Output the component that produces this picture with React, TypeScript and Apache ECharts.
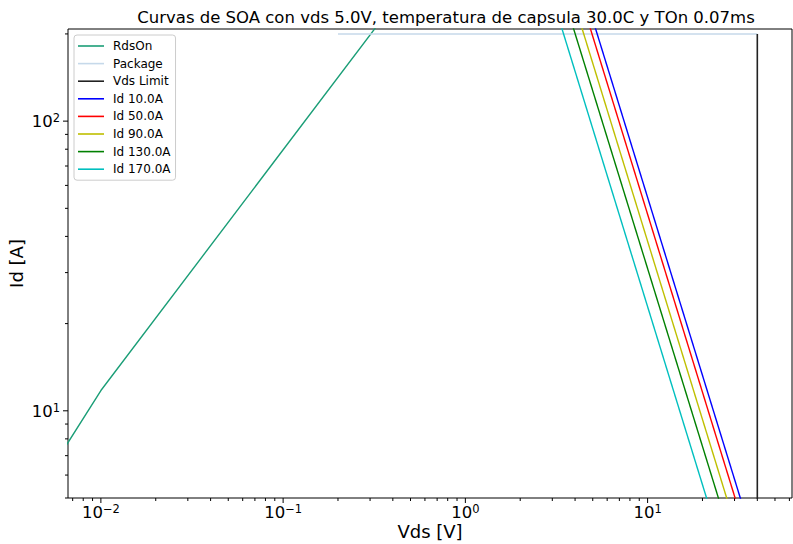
import React, { useEffect, useRef } from 'react';
import * as echarts from 'echarts';

const titleText = 'Curvas de SOA con vds 5.0V, temperatura de capsula 30.0C y TOn 0.07ms';
const xAxisName = 'Vds [V]';
const yAxisName = 'Id [A]';

const X_MIN = 0.0066;
const X_MAX = 62;
const Y_MIN = 5;
const Y_MAX = 208;

const rdsOnV = [0.006, 0.01, 0.349];
const rdsOnI = [7.07, 11.75, 225];
const packageV = [0.2, 40];
const packageI = [200, 200];
const vdsLimitV = [40, 40];
const vdsLimitI = [200, 4];

const idNames = ['Id 10.0A', 'Id 50.0A', 'Id 90.0A', 'Id 130.0A', 'Id 170.0A'];
const idColors = ['#0000ff', '#ff0000', '#bfbf00', '#008000', '#00bfbf'];
const idTopV = [4.74, 4.44, 4.0, 3.59, 3.1];
const idBottomV = [36.0, 33.7, 30.3, 27.3, 23.5];
const idI = [250, 4];

const xMajorTicks = [0.01, 0.1, 1, 10];
const yMajorTicks = [10, 100];
const minorMantissas = [2, 3, 4, 5, 6, 7, 8, 9];
const xDecades = [0.001, 0.01, 0.1, 1, 10];
const yDecades = [1, 10, 100];

const FONT = 'DejaVu Sans';

function zip(xs: number[], ys: number[]) {
  return xs.map((x, i) => [x, ys[i]]);
}

function minorTicks(decades: number[], lo: number, hi: number) {
  const out: number[] = [];
  decades.forEach((d) => minorMantissas.forEach((m) => {
    const v = d * m;
    if (v >= lo && v <= hi) out.push(v);
  }));
  return out;
}

function supLabel(v: number) {
  const lg = Math.log10(v);
  const e = Math.round(lg);
  if (Math.abs(lg - e) > 1e-6) return '';
  const es = e < 0 ? '\u2212' + String(-e) : String(e);
  return '{b|10}{s|' + es + '}';
}

export default function App() {
  const ref = useRef<HTMLDivElement>(null);
  useEffect(() => {
    if (!ref.current) return;
    const chart = echarts.init(ref.current, undefined, { renderer: 'svg' });

    const xTickData = [
      ...xMajorTicks.map((v) => [v, Y_MIN, 5]),
      ...minorTicks(xDecades, X_MIN, X_MAX).map((v) => [v, Y_MIN, 3]),
    ];
    const yTickData = [
      ...yMajorTicks.map((v) => [X_MIN, v, 5]),
      ...minorTicks(yDecades, Y_MIN, Y_MAX).map((v) => [X_MIN, v, 3]),
    ];

    const lineBase = (name: string, color: string, data: number[][], width = 1.4) => ({
      name,
      type: 'line',
      data,
      symbol: 'none',
      showSymbol: false,
      clip: true,
      lineStyle: { color, width },
      itemStyle: { color },
      emphasis: { disabled: true },
      silent: true,
    });

    const richLabel = {
      b: { fontSize: 16.5, fontFamily: FONT, color: '#000', lineHeight: 18, verticalAlign: 'bottom' },
      s: { fontSize: 11.5, fontFamily: FONT, color: '#000', lineHeight: 12, verticalAlign: 'top' },
    };

    const legendNames = ['RdsOn', 'Package', 'Vds Limit', ...idNames];

    const option: any = {
      animation: false,
      backgroundColor: '#fff',
      grid: {
        left: 68, right: 1, top: 29, bottom: 46,
        outerBoundsMode: 'none',
        containLabel: false,
        show: true, borderColor: '#000', borderWidth: 1, backgroundColor: 'transparent',
      },
      graphic: [
        {
          type: 'text',
          x: 446,
          y: 17,
          style: {
            text: titleText,
            fontFamily: FONT,
            fontSize: 16.5,
            fill: '#000',
            align: 'center',
            verticalAlign: 'middle',
          },
        },
      ],
      legend: {
        left: 74,
        top: 35,
        orient: 'vertical',
        data: legendNames,
        icon: 'path://M0 0H26V1.6H0Z',
        itemWidth: 26,
        itemHeight: 14,
        itemGap: 3.6,
        padding: [4, 5, 4, 4],
        backgroundColor: '#fff',
        borderColor: '#cccccc',
        borderWidth: 1,
        borderRadius: 3,
        selectedMode: false,
        textStyle: { fontFamily: FONT, fontSize: 12, lineHeight: 14, color: '#000', padding: [0, 0, 0, 4] },
      },
      xAxis: {
        type: 'log',
        logBase: 10,
        min: X_MIN,
        max: X_MAX,
        name: xAxisName,
        nameLocation: 'middle',
        nameGap: 24,
        nameMoveOverlap: false,
        nameTextStyle: { fontFamily: FONT, fontSize: 18, color: '#000' },
        axisLine: { show: false },
        axisTick: { show: false },
        splitLine: { show: false },
        minorTick: { show: false },
        axisLabel: {
          margin: 5,
          formatter: (v: number) => supLabel(v),
          rich: richLabel,
          showMinLabel: false,
          showMaxLabel: false,
        },
      },
      yAxis: {
        type: 'log',
        logBase: 10,
        min: Y_MIN,
        max: Y_MAX,
        name: yAxisName,
        nameLocation: 'middle',
        nameGap: 43,
        nameMoveOverlap: false,
        nameRotate: 90,
        nameTextStyle: { fontFamily: FONT, fontSize: 18, color: '#000' },
        axisLine: { show: false },
        axisTick: { show: false },
        splitLine: { show: false },
        minorTick: { show: false },
        axisLabel: {
          margin: 8,
          formatter: (v: number) => supLabel(v),
          rich: richLabel,
          showMinLabel: false,
          showMaxLabel: false,
        },
      },
      series: [
        lineBase('RdsOn', '#1b9e77', zip(rdsOnV, rdsOnI)),
        lineBase('Package', '#c6d9ea', zip(packageV, packageI)),
        lineBase('Vds Limit', '#222222', zip(vdsLimitV, vdsLimitI), 1.6),
        ...idNames.map((n, i) => lineBase(n, idColors[i], [[idTopV[i], idI[0]], [idBottomV[i], idI[1]]])),
        {
          name: 'xticks',
          type: 'custom',
          silent: true,
          clip: false,
          data: xTickData,
          renderItem: (_p: any, api: any) => {
            const pt = api.coord([api.value(0), Y_MIN]);
            const len = api.value(2);
            return {
              type: 'line',
              shape: { x1: pt[0], y1: pt[1], x2: pt[0], y2: pt[1] + len },
              style: { stroke: '#000', lineWidth: 1 },
            };
          },
        },
        {
          name: 'yticks',
          type: 'custom',
          silent: true,
          clip: false,
          data: yTickData,
          renderItem: (_p: any, api: any) => {
            const pt = api.coord([X_MIN, api.value(1)]);
            const len = api.value(2);
            return {
              type: 'line',
              shape: { x1: pt[0] - len, y1: pt[1], x2: pt[0], y2: pt[1] },
              style: { stroke: '#000', lineWidth: 1 },
            };
          },
        },
      ],
    };

    chart.setOption(option);
    return () => chart.dispose();
  }, []);

  return (
    <div
      ref={ref}
      style={{ position: 'fixed', left: 0, top: 0, width: 793, height: 544, background: '#fff' }}
    />
  );
}
